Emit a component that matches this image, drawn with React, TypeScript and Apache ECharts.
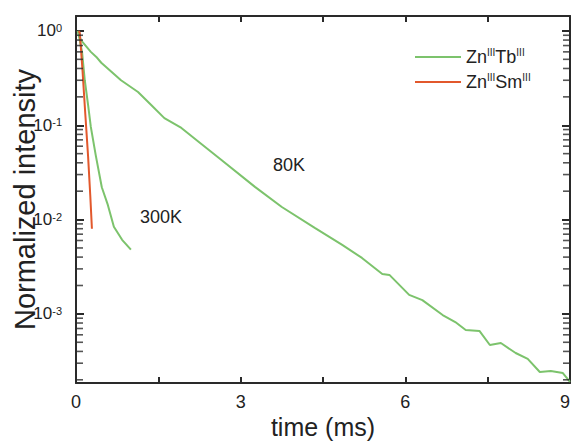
import React, { useEffect, useRef } from "react";
import * as echarts from "echarts";

const seriesNames = ["ZnIIITbIII", "ZnIIISmIII"];

// 80K decay of Zn(III)Tb(III)
const tb80Time = [0.03, 0.09, 0.27, 0.37, 0.46, 0.82, 1.13, 1.37, 1.61, 1.92, 2.29, 2.65, 3.26, 3.75, 4.35, 4.85, 5.21, 5.58, 5.71, 6.07, 6.31, 6.68, 6.91, 7.1, 7.35, 7.54, 7.74, 8.01, 8.23, 8.45, 8.65, 8.87, 9.0];
const tb80Value = [1.0, 0.8, 0.6, 0.53, 0.46, 0.3, 0.225, 0.164, 0.119, 0.0936, 0.063, 0.0429, 0.0222, 0.0136, 0.00815, 0.00538, 0.00392, 0.00265, 0.00259, 0.00159, 0.0014, 0.000973, 0.00082, 0.000675, 0.000659, 0.000468, 0.000491, 0.000385, 0.000333, 0.000242, 0.000248, 0.000236, 0.00019];

// 300K decay of Zn(III)Tb(III)
const tb300Time = [0.04, 0.11, 0.16, 0.22, 0.27, 0.36, 0.47, 0.58, 0.69, 0.84, 1.0];
const tb300Value = [0.97, 0.6, 0.3, 0.164, 0.096, 0.048, 0.022, 0.0143, 0.0084, 0.0061, 0.0048];

// Zn(III)Sm(III)
const smTime = [0.05, 0.07, 0.12, 0.17, 0.22, 0.26, 0.29];
const smValue = [1.0, 0.95, 0.37, 0.13, 0.047, 0.018, 0.008];

const minorTickValues = [
  2e-4, 3e-4, 4e-4, 5e-4, 6e-4, 7e-4, 8e-4, 9e-4,
  2e-3, 3e-3, 4e-3, 5e-3, 6e-3, 7e-3, 8e-3, 9e-3,
  2e-2, 3e-2, 4e-2, 5e-2, 6e-2, 7e-2, 8e-2, 9e-2,
  2e-1, 3e-1, 4e-1, 5e-1, 6e-1, 7e-1, 8e-1, 9e-1,
];

const annotations = [
  { text: "80K", x: 289, y: 165 },
  { text: "300K", x: 161, y: 217 },
];

const GREEN = "#7cc36c";
const ORANGE = "#e2582c";
const AXIS = "#2a2a2a";
const FONT = "Liberation Sans, Arial, sans-serif";

export default function App() {
  const ref = useRef<HTMLDivElement>(null);
  useEffect(() => {
    if (!ref.current) return;
    const chart = echarts.init(ref.current, null, { renderer: "svg" });
    const yMin = 1.85e-4;
    const yMax = 1.44;
    const supFmt = (v: number) => {
      const e = Math.log10(v);
      if (Math.abs(e - Math.round(e)) > 1e-6) return "";
      return `{b|10}{s|${Math.round(e)}}`;
    };
    const axisLine = () => ({ show: true, onZero: false, lineStyle: { color: AXIS, width: 2 } });
    const tickX = () => ({ show: true, inside: true, length: 6, lineStyle: { color: AXIS, width: 2 } });
    const tickY = () => ({ show: true, inside: true, length: 8, lineStyle: { color: AXIS, width: 2 } });
    const minorTickSeries = (id: string, offset: number, x: number) => ({
      id,
      name: id,
      type: "scatter",
      clip: false,
      silent: true,
      z: 10,
      symbol: "rect",
      symbolSize: [6, 1.6],
      symbolOffset: [offset, 0],
      itemStyle: { color: AXIS },
      data: minorTickValues.map((v) => [x, v]),
    });
    chart.setOption({
      animation: false,
      backgroundColor: "#ffffff",
      textStyle: { fontFamily: FONT },
      grid: { left: 76, right: 3, top: 16, bottom: 58, outerBoundsMode: "none" },
      legend: {
        data: seriesNames,
        orient: "vertical",
        left: 410,
        top: 42,
        itemWidth: 46,
        itemHeight: 14,
        itemGap: 6,
        icon: "path://M0,6 L46,6 L46,8 L0,8 Z",
        formatter: (name: string) =>
          name === seriesNames[0]
            ? "{n|Zn}{s|III}{n|Tb}{s|III}"
            : "{n|Zn}{s|III}{n|Sm}{s|III}",
        textStyle: {
          fontFamily: FONT,
          color: "#222",
          rich: {
            n: { fontSize: 18, lineHeight: 20, verticalAlign: "middle", color: "#222", fontFamily: FONT },
            s: { fontSize: 10, lineHeight: 10, verticalAlign: "top", color: "#222", fontFamily: FONT },
          },
        },
      },
      xAxis: [
        {
          type: "value",
          min: 0,
          max: 9,
          interval: 1.5,
          name: "time (ms)",
          nameLocation: "middle",
          nameGap: 31,
          nameMoveOverlap: false,
          nameTextStyle: { fontSize: 25, color: "#222", fontFamily: FONT },
          axisLine: axisLine(),
          axisTick: tickX(),
          axisLabel: {
            fontSize: 18,
            color: "#222",
            margin: 10,
            alignMaxLabel: "right",
            formatter: (v: number) => (Math.abs(v % 3) < 1e-9 ? String(v) : ""),
          },
          splitLine: { show: false },
        },
        {
          type: "value",
          position: "top",
          min: 0,
          max: 9,
          interval: 1.5,
          axisLine: axisLine(),
          axisTick: tickX(),
          axisLabel: { show: false },
          splitLine: { show: false },
        },
      ],
      yAxis: [
        {
          type: "log",
          logBase: 10,
          min: yMin,
          max: yMax,
          name: "Normalized intensity",
          nameLocation: "middle",
          nameGap: 37,
          nameMoveOverlap: false,
          nameTextStyle: { fontSize: 29, color: "#222", fontFamily: FONT },
          axisLine: axisLine(),
          axisTick: tickY(),
          axisLabel: {
            margin: 14,
            showMinLabel: false,
            showMaxLabel: false,
            formatter: supFmt,
            rich: {
              b: { fontSize: 17, lineHeight: 17, verticalAlign: "middle", color: "#222", fontFamily: FONT },
              s: { fontSize: 11, lineHeight: 11, verticalAlign: "top", color: "#222", fontFamily: FONT, padding: [0, 0, 3, 0] },
            },
          },
          splitLine: { show: false },
        },
        {
          type: "log",
          logBase: 10,
          position: "right",
          min: yMin,
          max: yMax,
          axisLine: axisLine(),
          axisTick: tickY(),
          axisLabel: { show: false },
          splitLine: { show: false },
        },
      ],
      graphic: annotations.map((a) => ({
        type: "text",
        x: a.x,
        y: a.y,
        style: {
          text: a.text,
          fontSize: 18,
          fontFamily: FONT,
          fill: "#222",
          align: "center",
          verticalAlign: "middle",
        },
      })),
      series: [
        {
          name: seriesNames[0],
          type: "line",
          symbol: "none",
          data: tb80Time.map((t, i) => [t, tb80Value[i]]),
          lineStyle: { color: GREEN, width: 2 },
          itemStyle: { color: GREEN },
          z: 3,
        },
        {
          name: seriesNames[0] + " 300K",
          type: "line",
          symbol: "none",
          data: tb300Time.map((t, i) => [t, tb300Value[i]]),
          lineStyle: { color: GREEN, width: 2 },
          itemStyle: { color: GREEN },
          z: 3,
        },
        {
          name: seriesNames[1],
          type: "line",
          symbol: "none",
          data: smTime.map((t, i) => [t, smValue[i]]),
          lineStyle: { color: ORANGE, width: 2 },
          itemStyle: { color: ORANGE },
          z: 4,
        },
        minorTickSeries("minorLeft", 4, 0),
        minorTickSeries("minorRight", -4, 9),
      ],
    });
    return () => chart.dispose();
  }, []);
  return (
    <div
      ref={ref}
      style={{ position: "fixed", left: 0, top: 0, width: 573, height: 441, background: "#fff" }}
    />
  );
}
